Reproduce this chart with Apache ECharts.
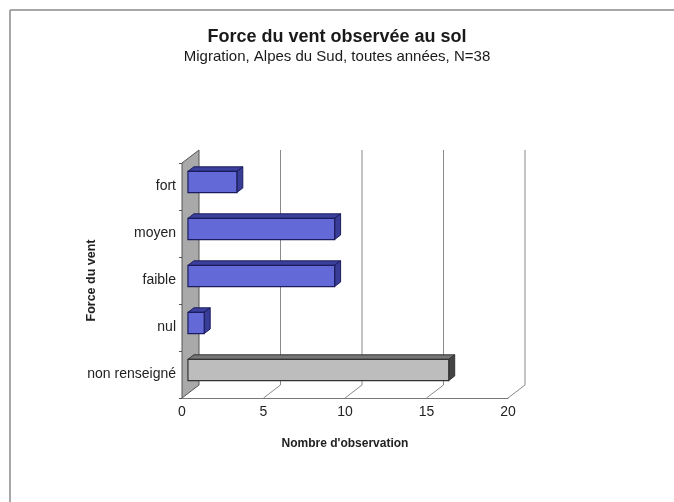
<!DOCTYPE html>
<html>
<head>
<meta charset="utf-8">
<script src="https://cdn.jsdelivr.net/npm/echarts@6/dist/echarts.min.js"></script>
<style>
  html, body { margin: 0; padding: 0; background: #fff; }
  #main { width: 674px; height: 502px; }
</style>
</head>
<body>
<div id="main"></div>
<script>
// categories (top to bottom) and number of observations
var categories = ['fort', 'moyen', 'faible', 'nul', 'non renseigné'];
var counts = [3, 9, 9, 1, 16];
var xTicks = [0, 5, 10, 15, 20];

var FONT = '"Liberation Sans", Arial, sans-serif';
// 3D depth vector (px) of the Excel style box
var DX = 17, DY = -13;
var F1 = 0.35, F2 = 0.7; // bar front / back depth fraction

var chart = echarts.init(document.getElementById('main'));

// walls, floor and back gridlines
function renderFrame(params, api) {
  var band = api.size([0, 1])[1];
  var top = api.coord([0, 0])[1] - band / 2;
  var bottom = api.coord([0, categories.length - 1])[1] + band / 2;
  var x0 = api.coord([0, 0])[0];
  var children = [];
  // gray side wall
  children.push({
    type: 'polygon',
    shape: { points: [[x0, top], [x0 + DX, top + DY], [x0 + DX, bottom + DY], [x0, bottom]] },
    style: { fill: '#a9a9a9', stroke: '#555', lineWidth: 1 }
  });
  xTicks.forEach(function (t) {
    if (t === 0) return;
    var x = api.coord([t, 0])[0];
    // back wall gridline
    children.push({
      type: 'line',
      shape: { x1: x + DX, y1: top + DY, x2: x + DX, y2: bottom + DY },
      style: { stroke: '#8a8a8a', lineWidth: 1 }
    });
    // floor gridline
    children.push({
      type: 'line',
      shape: { x1: x, y1: bottom, x2: x + DX, y2: bottom + DY },
      style: { stroke: '#8a8a8a', lineWidth: 1 }
    });
  });
  return { type: 'group', children: children };
}

function renderBar(params, api) {
  var v = api.value(0);
  var c = api.value(1);
  var band = api.size([0, 1])[1];
  var h = band * 0.45;
  var p0 = api.coord([0, c]);
  var p1 = api.coord([v, c]);
  var fx0 = p0[0] + F1 * DX, fx1 = p1[0] + F1 * DX;
  var fy = p0[1] + F1 * DY;
  var ty = fy - h / 2, by = fy + h / 2;
  var ddx = (F2 - F1) * DX, ddy = (F2 - F1) * DY;
  var grey = categories[c] === 'non renseigné';
  var front = grey ? '#bdbdbd' : '#636ad8';
  var topC = grey ? '#777' : '#3a409c';
  var side = grey ? '#444' : '#383d98';
  var edge = grey ? '#333' : '#1c1c5c';
  return {
    type: 'group',
    children: [
      {
        type: 'polygon',
        shape: { points: [[fx0, ty], [fx1, ty], [fx1 + ddx, ty + ddy], [fx0 + ddx, ty + ddy]] },
        style: { fill: topC, stroke: edge, lineWidth: 1 }
      },
      {
        type: 'polygon',
        shape: { points: [[fx1, ty], [fx1 + ddx, ty + ddy], [fx1 + ddx, by + ddy], [fx1, by]] },
        style: { fill: side, stroke: edge, lineWidth: 1 }
      },
      {
        type: 'rect',
        shape: { x: fx0, y: ty, width: fx1 - fx0, height: h },
        style: { fill: front, stroke: edge, lineWidth: 1.2 }
      }
    ]
  };
}

var option = {
  backgroundColor: '#fff',
  animation: false,
  textStyle: { fontFamily: FONT },
  title: {
    text: 'Force du vent observée au sol',
    subtext: 'Migration, Alpes du Sud, toutes années, N=38',
    left: 'center',
    top: 23,
    itemGap: 3,
    textStyle: { fontFamily: FONT, fontSize: 18, fontWeight: 'bold', color: '#1a1a1a' },
    subtextStyle: { fontFamily: FONT, fontSize: 15, color: '#1a1a1a' }
  },
  graphic: [
    { type: 'line', shape: { x1: 10, y1: 10, x2: 674, y2: 10 }, style: { stroke: '#8a8a8a', lineWidth: 1.5 } },
    { type: 'line', shape: { x1: 10, y1: 10, x2: 10, y2: 502 }, style: { stroke: '#8a8a8a', lineWidth: 1.5 } }
  ],
  grid: { left: 182, width: 326, top: 163, height: 235, containLabel: false },
  xAxis: {
    type: 'value',
    min: 0,
    max: 20,
    interval: 5,
    name: 'Nombre d\'observation',
    nameLocation: 'middle',
    nameGap: 40,
    nameTextStyle: { fontFamily: FONT, fontSize: 12, fontWeight: 'bold', color: '#222' },
    axisLine: { show: true, lineStyle: { color: '#777', width: 1 } },
    axisTick: { show: false },
    axisLabel: { margin: 7, fontFamily: FONT, fontSize: 14, color: '#222' },
    splitLine: { show: false }
  },
  yAxis: {
    type: 'category',
    data: categories,
    inverse: true,
    name: 'Force du vent',
    nameLocation: 'middle',
    nameRotate: 90,
    nameGap: 84,
    nameMoveOverlap: false,
    nameTextStyle: { fontFamily: FONT, fontSize: 12.5, fontWeight: 'bold', color: '#222' },
    axisLine: { show: true, lineStyle: { color: '#555', width: 1 } },
    axisTick: { show: true, length: 3, lineStyle: { color: '#555' } },
    axisLabel: { margin: 6, fontFamily: FONT, fontSize: 14, color: '#222' },
    splitLine: { show: false }
  },
  series: [
    {
      type: 'custom',
      name: 'frame',
      renderItem: renderFrame,
      data: [[0, 0]],
      encode: { x: 0, y: 1 },
      clip: false,
      silent: true,
      z: 1
    },
    {
      type: 'custom',
      name: 'observations',
      renderItem: renderBar,
      data: counts.map(function (v, i) { return [v, i]; }),
      encode: { x: 0, y: 1 },
      clip: false,
      z: 3
    }
  ]
};

chart.setOption(option);
</script>
</body>
</html>
